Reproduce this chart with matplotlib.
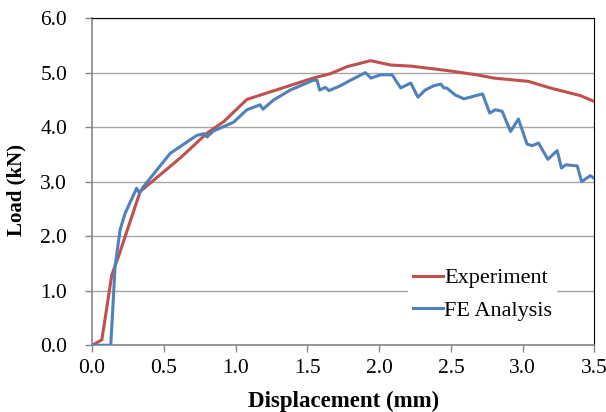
import numpy as np
import matplotlib.pyplot as plt

plt.rcParams['font.family'] = ['Liberation Serif', 'DejaVu Serif']

# Experiment (red)
exp_x = [0.0, 0.068, 0.137, 0.184, 0.335, 0.625, 0.80, 0.916, 1.079, 1.54, 1.66,
         1.776, 1.94, 2.08, 2.22, 2.47, 2.68, 2.80, 3.04, 3.19, 3.40, 3.50]
exp_y = [0.0, 0.10, 1.29, 1.63, 2.82, 3.46, 3.89, 4.10, 4.51, 4.90, 4.98,
         5.11, 5.22, 5.14, 5.12, 5.04, 4.96, 4.90, 4.84, 4.72, 4.58, 4.47]

# FE Analysis (blue)
fe_x = [0.0, 0.13, 0.16, 0.195, 0.23, 0.31, 0.33, 0.358, 0.544, 0.73, 0.78, 0.80,
        0.846, 0.985, 1.079, 1.17, 1.19, 1.265, 1.38, 1.54, 1.567, 1.585, 1.625,
        1.65, 1.73, 1.80, 1.904, 1.943, 2.01, 2.09, 2.15, 2.22, 2.27, 2.32, 2.38,
        2.43, 2.45, 2.47, 2.53, 2.59, 2.72, 2.77, 2.81, 2.857, 2.915, 2.97, 3.03,
        3.066, 3.11, 3.175, 3.24, 3.27, 3.30, 3.38, 3.41, 3.47, 3.50]
fe_y = [0.0, 0.0, 1.44, 2.12, 2.42, 2.88, 2.79, 2.91, 3.52, 3.85, 3.88, 3.82,
        3.93, 4.09, 4.32, 4.41, 4.33, 4.50, 4.68, 4.86, 4.86, 4.68, 4.73,
        4.67, 4.76, 4.86, 5.00, 4.90, 4.96, 4.96, 4.72, 4.81, 4.55, 4.68, 4.76,
        4.79, 4.72, 4.72, 4.59, 4.52, 4.61, 4.26, 4.32, 4.29, 3.92, 4.15, 3.69,
        3.66, 3.71, 3.41, 3.57, 3.25, 3.31, 3.29, 3.00, 3.11, 3.06]

fig = plt.figure(figsize=(6.06, 4.12), dpi=100)
ax = fig.add_axes([0.152, 0.162, 0.829, 0.794])

ax.plot(exp_x, exp_y, color='#C0504D', lw=2.2, label='Experiment', zorder=3)
ax.plot(fe_x, fe_y, color='#4F81BD', lw=2.2, label='FE Analysis', zorder=3)

ax.set_xlim(0, 3.5)
ax.set_ylim(0, 6)
ax.set_xticks(np.arange(0, 3.51, 0.5))
ax.set_yticks(np.arange(0, 6.01, 1))
ax.set_xticklabels([f'{v:.1f}' for v in np.arange(0, 3.51, 0.5)])
ax.set_yticklabels([f'{v:.1f}' for v in np.arange(0, 6.01, 1)])
ax.tick_params(labelsize=15.5, direction='out', length=5, color='#868686', width=1)
ax.tick_params(axis='y', pad=13)
ax.tick_params(axis='x', pad=5)
ax.grid(axis='y', color='#a6a6a6', lw=1)
ax.set_axisbelow(True)

for side in ['left', 'bottom']:
    ax.spines[side].set_color('#868686')
    ax.spines[side].set_linewidth(1.2)
for side in ['top', 'right']:
    ax.spines[side].set_color('black')
    ax.spines[side].set_linewidth(0.8)

ax.set_xlabel('Displacement (mm)', fontsize=16.5, fontweight='bold')
ax.set_ylabel('Load (kN)', fontsize=15, fontweight='bold')
ax.xaxis.set_label_coords(0.5, -0.14)
ax.yaxis.set_label_coords(-0.13, 0.475)

leg = ax.legend(loc='center', bbox_to_anchor=(0.777, 0.155), fontsize=16,
                frameon=True, fancybox=False, handlelength=1.35, handletextpad=0.08,
                borderpad=0.2, labelspacing=0.55)
leg.get_frame().set_facecolor('white')
leg.get_frame().set_edgecolor('none')
leg.get_frame().set_alpha(1)

fig.savefig('out.png', dpi=100)
